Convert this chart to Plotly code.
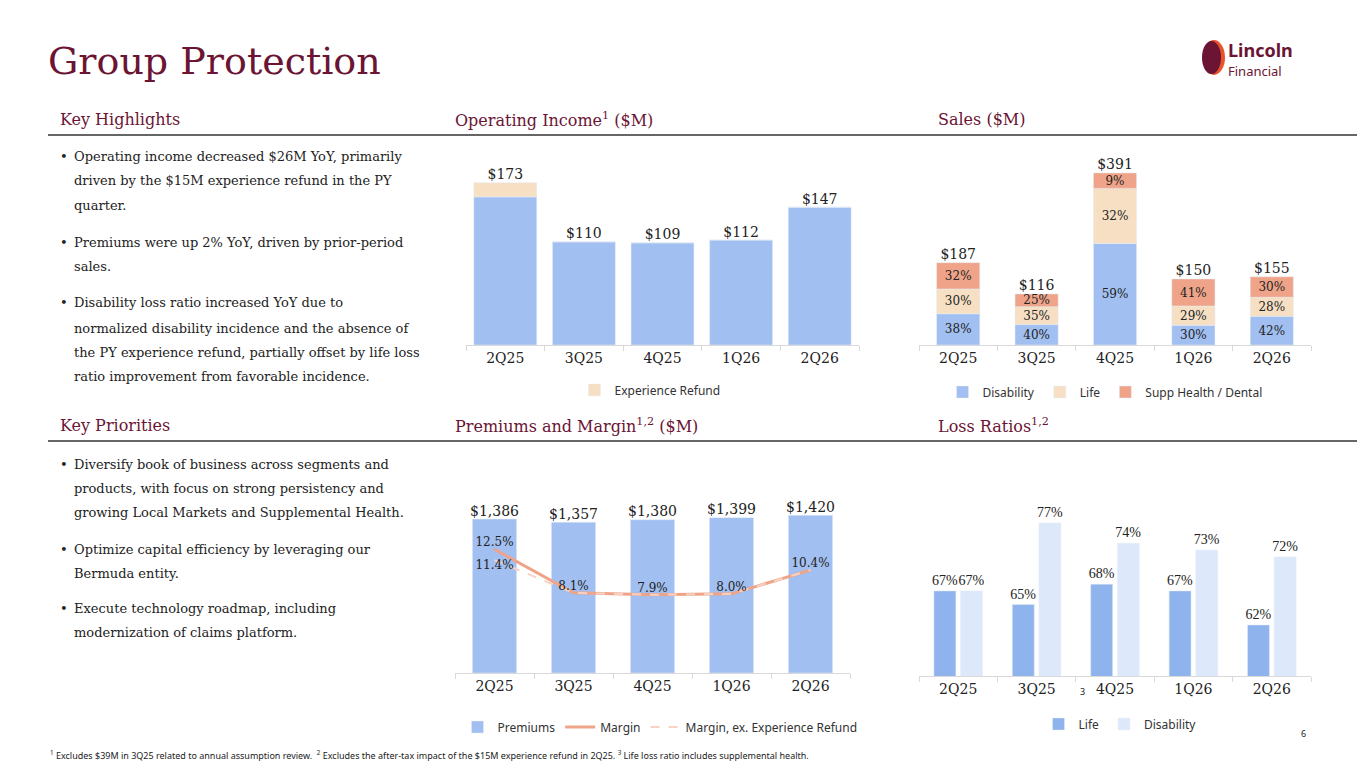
import plotly.graph_objects as go

W, H = 1365, 768
OFF = 8  # page body margin

quarters = ["2Q25", "3Q25", "4Q25", "1Q26", "2Q26"]

# Operating income ($M)
op_income = [158, 110, 109, 112, 147]
op_refund = [15, 0, 0, 0, 0]
op_totals = [173, 110, 109, 112, 147]

# Sales ($M) and mix (%)
sales_totals = [187, 116, 391, 150, 155]
sales_disability_pct = [38, 40, 59, 30, 42]
sales_life_pct = [30, 35, 32, 29, 28]
sales_supp_pct = [32, 25, 9, 41, 30]

# Premiums ($M) and margin (%)
premiums = [1386, 1357, 1380, 1399, 1420]
margin = [12.5, 8.1, 7.9, 8.0, 10.4]
margin_ex_refund = [11.4, 8.1, 7.9, 8.0, 10.4]

# Loss ratios (%)
loss_life = [67, 65, 68, 67, 62]
loss_disability = [67, 77, 74, 73, 72]

MAROON = "#6b1433"
BLUE = "#a1bff0"
CREAM = "#f6dfc3"
SALMON = "#efa489"
SERIF = "DejaVu Serif"
SANS = "Noto Sans"


def px(x):
    return (x - OFF) / W


def py(y):
    return 1 - (y - OFF) / H


def label_font(size=14, family=SERIF):
    return dict(family=family, size=size, color="#222")


fig = go.Figure()

# ---- Operating income
fig.add_trace(go.Bar(x=quarters, y=op_income, marker_color=BLUE, width=0.8,
                     xaxis="x", yaxis="y", showlegend=False, hoverinfo="y"))
fig.add_trace(go.Bar(x=quarters, y=op_refund, base=op_income, marker_color=CREAM, width=0.8,
                     xaxis="x", yaxis="y", name="Experience Refund", legend="legend"))
fig.add_trace(go.Scatter(x=quarters, y=op_totals, mode="text",
                         text=[f"${v}" for v in op_totals], textposition="top center",
                         textfont=label_font(), xaxis="x", yaxis="y", showlegend=False))

# ---- Sales
dis_vals = [t * p / 100 for t, p in zip(sales_totals, sales_disability_pct)]
life_vals = [t * p / 100 for t, p in zip(sales_totals, sales_life_pct)]
supp_vals = [t * p / 100 for t, p in zip(sales_totals, sales_supp_pct)]
life_base = dis_vals
supp_base = [a + b for a, b in zip(dis_vals, life_vals)]
for name, vals, base, pct, col in [
    ("Disability", dis_vals, None, sales_disability_pct, BLUE),
    ("Life", life_vals, life_base, sales_life_pct, CREAM),
    ("Supp Health / Dental", supp_vals, supp_base, sales_supp_pct, SALMON),
]:
    fig.add_trace(go.Bar(x=quarters, y=vals, base=base, marker_color=col, width=0.55,
                         text=[f"{p}%" for p in pct], textposition="inside",
                         insidetextanchor="middle", constraintext="none",
                         textfont=label_font(12),
                         xaxis="x2", yaxis="y2", name=name, legend="legend2"))
fig.add_trace(go.Scatter(x=quarters, y=sales_totals, mode="text",
                         text=[f"${v}" for v in sales_totals], textposition="top center",
                         textfont=label_font(), xaxis="x2", yaxis="y2", showlegend=False))

# ---- Premiums and margin
fig.add_trace(go.Bar(x=quarters, y=premiums, marker_color=BLUE, width=0.56,
                     xaxis="x3", yaxis="y3", name="Premiums", legend="legend3"))
fig.add_trace(go.Scatter(x=quarters, y=premiums, mode="text",
                         text=[f"${v:,}" for v in premiums], textposition="top center",
                         textfont=label_font(), xaxis="x3", yaxis="y3", showlegend=False))
fig.add_trace(go.Scatter(x=quarters, y=margin, mode="lines", line=dict(color=SALMON, width=3),
                         xaxis="x3", yaxis="y4", name="Margin", legend="legend3"))
fig.add_trace(go.Scatter(x=quarters, y=margin_ex_refund, mode="lines",
                         line=dict(color="#f7d3c4", width=2, dash="dash"),
                         xaxis="x3", yaxis="y4", name="Margin, ex. Experience Refund",
                         legend="legend3"))
fig.add_trace(go.Scatter(x=quarters, y=margin, mode="text",
                         text=[f"{v}%" for v in margin], textposition="top center",
                         textfont=label_font(12), xaxis="x3", yaxis="y4", showlegend=False))
fig.add_trace(go.Scatter(x=quarters[:1], y=margin_ex_refund[:1], mode="text",
                         text=[f"{margin_ex_refund[0]}%"], textposition="bottom center",
                         textfont=label_font(12), xaxis="x3", yaxis="y4", showlegend=False))

# ---- Loss ratios
loss_font = label_font(14, "Liberation Serif")
fig.add_trace(go.Bar(x=quarters, y=loss_life, marker_color="#8fb3ec", width=0.28, offset=-0.31,
                     text=[f"{v}%" for v in loss_life], textposition="outside",
                     constraintext="none", cliponaxis=False, textfont=loss_font,
                     outsidetextfont=loss_font,
                     xaxis="x4", yaxis="y5", name="Life", legend="legend4"))
fig.add_trace(go.Bar(x=quarters, y=loss_disability, marker_color="#dde9fb", width=0.28, offset=0.03,
                     text=[f"{v}%" for v in loss_disability], textposition="outside",
                     constraintext="none", cliponaxis=False, textfont=loss_font,
                     outsidetextfont=loss_font,
                     xaxis="x4", yaxis="y5", name="Disability", legend="legend4"))

xcommon = dict(type="category", showline=True, linecolor="#d9d9d9", ticks="outside",
               tickson="boundaries", tickcolor="#d9d9d9", ticklen=5, showgrid=False,
               tickfont=label_font(14), fixedrange=True)
ycommon = dict(visible=False, showgrid=False, fixedrange=True)

fig.update_layout(
    width=W, height=H, margin=dict(l=0, r=0, t=0, b=0),
    paper_bgcolor="white", plot_bgcolor="white", barmode="overlay",
    xaxis=dict(xcommon, domain=[px(466), px(859)], anchor="y"),
    yaxis=dict(ycommon, domain=[py(345), py(150)], range=[0, 208]),
    xaxis2=dict(xcommon, domain=[px(919), px(1311)], anchor="y2"),
    yaxis2=dict(ycommon, domain=[py(345), py(150)], range=[0, 443]),
    xaxis3=dict(xcommon, domain=[px(455), px(850)], anchor="y3"),
    yaxis3=dict(ycommon, domain=[py(673), py(480)], range=[0, 1738]),
    yaxis4=dict(ycommon, overlaying="y3", range=[0, 19.5]),
    xaxis4=dict(xcommon, domain=[px(919), px(1311)], anchor="y5"),
    yaxis5=dict(ycommon, domain=[py(676), py(480)], range=[54.5, 83.3]),
)

leg = dict(orientation="h", xanchor="center", yanchor="middle",
           font=dict(family=SANS, size=12, color="#333"), bgcolor="rgba(0,0,0,0)")
fig.update_layout(
    legend=dict(leg, x=px(650), y=py(390)),
    legend2=dict(leg, x=px(1105), y=py(392)),
    legend3=dict(leg, x=px(660), y=py(727)),
    legend4=dict(leg, x=px(1120), y=py(724)),
)

ann = []


def text(x, y, s, size=14, color="#222", family=SERIF, xanchor="left", **kw):
    ann.append(dict(x=px(x), y=py(y), xref="paper", yref="paper", text=s, showarrow=False,
                    xanchor=xanchor, yanchor="middle",
                    font=dict(family=family, size=size, color=color), **kw))


text(46, 61, "Group Protection", size=38, color=MAROON)
for x, y, s in [
    (58, 119, "Key Highlights"),
    (453, 119, "Operating Income<sup>1</sup> ($M)"),
    (936, 119, "Sales ($M)"),
    (58, 425, "Key Priorities"),
    (453, 425, "Premiums and Margin<sup>1,2</sup> ($M)"),
    (936, 425, "Loss Ratios<sup>1,2</sup>"),
]:
    text(x, y, s, size=16, color=MAROON)

highlights = [
    (157, True, "Operating income decreased $26M YoY, primarily"),
    (181, False, "driven by the $15M experience refund in the PY"),
    (205, False, "quarter."),
    (242, True, "Premiums were up 2% YoY, driven by prior-period"),
    (266, False, "sales."),
    (303, True, "Disability loss ratio increased YoY due to"),
    (328, False, "normalized disability incidence and the absence of"),
    (352, False, "the PY experience refund, partially offset by life loss"),
    (376, False, "ratio improvement from favorable incidence."),
]
priorities = [
    (464, True, "Diversify book of business across segments and"),
    (488, False, "products, with focus on strong persistency and"),
    (512, False, "growing Local Markets and Supplemental Health."),
    (549, True, "Optimize capital efficiency by leveraging our"),
    (573, False, "Bermuda entity."),
    (608, True, "Execute technology roadmap, including"),
    (632, False, "modernization of claims platform."),
]
for y, bullet, s in highlights + priorities:
    if bullet:
        text(58, y, "•", size=13)
    text(72, y, s, size=13)

text(1078, 691, "3", size=9, family=SANS)
text(48, 755, "<sup>1</sup> Excludes $39M in 3Q25 related to annual assumption review.  "
     "<sup>2</sup> Excludes the after-tax impact of the $15M experience refund in 2Q25. "
     "<sup>3</sup> Life loss ratio includes supplemental health.", size=9, family=SANS)
text(1308, 733, "6", size=9, family=SANS, xanchor="right")

# logo
text(1226, 50, "<b>Lincoln</b>", size=18, color=MAROON, family=SANS)
text(1226, 71, "Financial", size=13, color=MAROON, family=SANS)

fig.update_layout(annotations=ann, shapes=[
    dict(type="line", xref="paper", yref="paper", x0=px(48), x1=1, y0=py(135), y1=py(135),
         line=dict(color="#333", width=1.5)),
    dict(type="line", xref="paper", yref="paper", x0=px(48), x1=1, y0=py(441), y1=py(441),
         line=dict(color="#333", width=1.5)),
    dict(type="circle", xref="paper", yref="paper", x0=px(1203), x1=px(1225),
         y0=py(75), y1=py(40), fillcolor="#e8532b", line=dict(width=0)),
    dict(type="circle", xref="paper", yref="paper", x0=px(1202), x1=px(1221),
         y0=py(74), y1=py(41), fillcolor=MAROON, line=dict(width=0)),
])

fig.write_html("out.html")
